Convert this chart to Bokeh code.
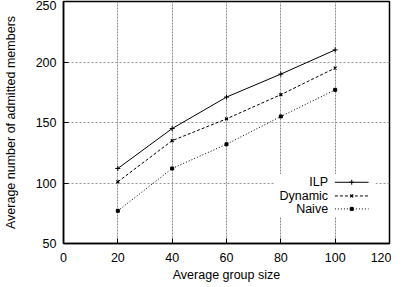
from bokeh.plotting import figure
from bokeh.models import FixedTicker, Range1d
from bokeh.core.properties import value
from bokeh.embed import file_html
from bokeh.resources import INLINE

# ---- data ----
group_size = [20, 40, 60, 80, 100]
ilp = [112, 145, 171, 190, 210]
dynamic = [101, 135, 153, 173, 195]
naive = [77, 112, 132, 155, 177]
x_ticks = [0, 20, 40, 60, 80, 100, 120]
y_ticks = [50, 100, 150, 200, 250]
series_names = ["ILP", "Dynamic", "Naive"]

FONT = "Liberation Sans"
FS = "12.5px"

p = figure(width=391, height=285, output_backend="svg", toolbar_location=None,
           x_range=Range1d(0, 120), y_range=Range1d(50, 250),
           min_border_left=57, min_border_right=2, min_border_top=1,
           min_border_bottom=42)
p.background_fill_color = "white"
p.border_fill_color = "white"
p.outline_line_color = "black"
p.outline_line_width = 1.5

for ax in (p.xaxis[0], p.yaxis[0]):
    ax.major_label_text_font = FONT
    ax.major_label_text_font_size = FS
    ax.major_label_text_color = "black"
    ax.axis_label_text_font = FONT
    ax.axis_label_text_font_size = FS
    ax.axis_label_text_font_style = "normal"
    ax.axis_label_text_color = "black"
    ax.axis_line_color = "black"
    ax.axis_line_width = 1.5
    ax.major_tick_in = 5
    ax.major_tick_out = 0
    ax.major_tick_line_color = "black"
    ax.minor_tick_line_color = None

p.xaxis[0].ticker = FixedTicker(ticks=x_ticks)
p.yaxis[0].ticker = FixedTicker(ticks=y_ticks)
p.xaxis[0].axis_label = "Average group size"
p.yaxis[0].axis_label = "Average number of admitted members"
p.xaxis[0].major_label_standoff = 9
p.xaxis[0].axis_label_standoff = 3
p.yaxis[0].major_label_standoff = 7
p.yaxis[0].axis_label_standoff = 15

p.xgrid[0].ticker = FixedTicker(ticks=x_ticks)
p.ygrid[0].ticker = FixedTicker(ticks=y_ticks)
p.xgrid[0].grid_line_color = "#8c8c8c"
p.xgrid[0].grid_line_dash = "2 1"
p.xgrid[0].grid_line_width = 1
p.ygrid[0].grid_line_color = "#959595"
p.ygrid[0].grid_line_dash = "2 2"
p.ygrid[0].grid_line_width = 1

# data lines
p.line(group_size, ilp, line_color="black", line_width=1)
p.scatter(group_size, ilp, marker="cross", size=5, line_color="black", line_width=1)

p.line(group_size, dynamic, line_color="black", line_width=1, line_dash="3 2")
p.scatter(group_size, dynamic, marker="x", size=4, line_color="black", line_width=1.3)

p.line(group_size, naive, line_color="black", line_width=1, line_dash="1 2")
p.scatter(group_size, naive, marker="square", size=3, line_color="black", fill_color="black")

# manual gnuplot-style legend (label right-aligned, sample to the right)
p.quad(left=[77.7], right=[114.9], top=[107.4], bottom=[72.0],
       fill_color="white", line_color=None)
leg_y = [100.6, 89.3, 78.6]
dashes = ["solid", "3 2", "1 2"]
markers = ["cross", "x", "square"]
for name, yy, dash, mk in zip(series_names, leg_y, dashes, markers):
    p.text(x=[97.4], y=[yy], text=[name], text_align="right", text_baseline="middle",
           text_font=value(FONT), text_font_size=FS, text_color="black")
    p.line([99.9, 112.3], [yy, yy], line_color="black", line_width=1, line_dash=dash)
    if mk == "square":
        p.scatter([106.1], [yy], marker=mk, size=3, line_color="black", fill_color="black")
    elif mk == "x":
        p.scatter([106.1], [yy], marker=mk, size=4, line_color="black", line_width=1.3)
    else:
        p.scatter([106.1], [yy], marker=mk, size=5, line_color="black", line_width=1)

open("out.html", "w").write(file_html(p, INLINE))
